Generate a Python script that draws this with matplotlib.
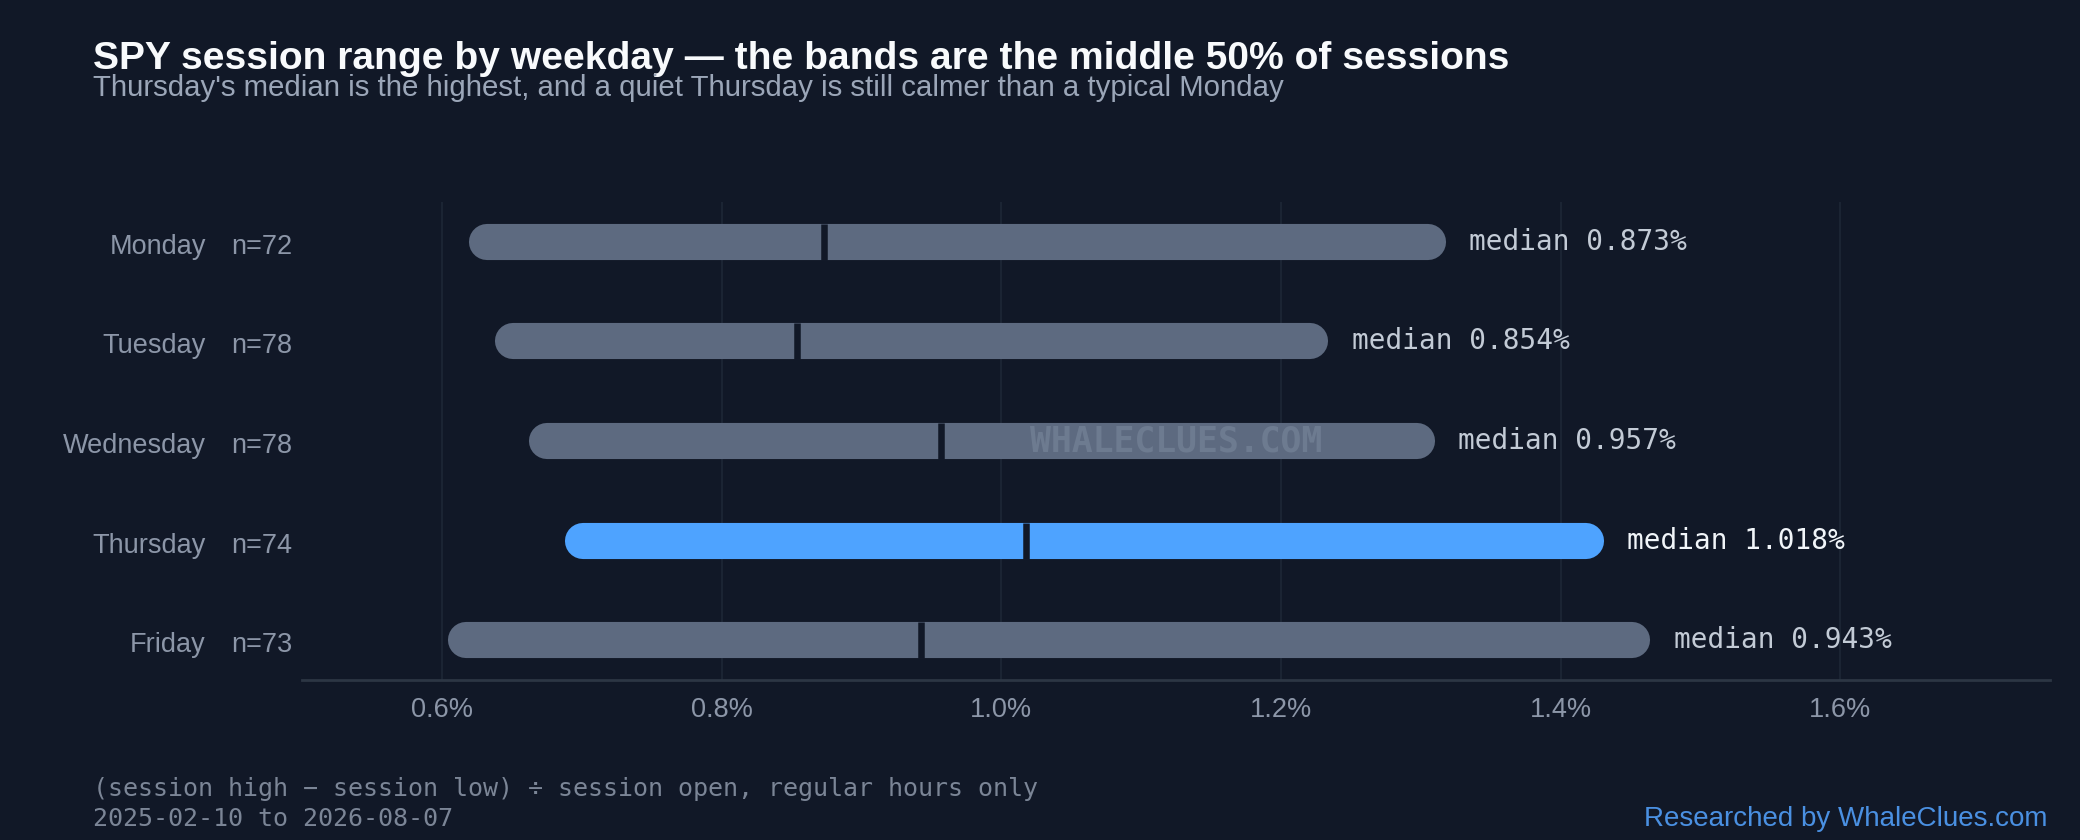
import matplotlib
matplotlib.use("Agg")
import matplotlib.pyplot as plt
from matplotlib.ticker import FuncFormatter

# session range (% of open), middle 50% of sessions per weekday
days = ["Monday", "Tuesday", "Wednesday", "Thursday", "Friday"]
counts = [72, 78, 78, 74, 73]
q25 = [0.632, 0.651, 0.675, 0.701, 0.617]
q75 = [1.305, 1.221, 1.297, 1.418, 1.451]
medians = [0.873, 0.854, 0.957, 1.018, 0.943]
highlight = "Thursday"
xticks = [0.6, 0.8, 1.0, 1.2, 1.4, 1.6]

BG = "#111827"
BAR = "#5d6a80"
HI = "#4ea3ff"
GRID = "#1e2736"
AXIS = "#2c3644"
LABEL = "#8c96a8"

plt.rcParams["font.family"] = ["Liberation Sans", "DejaVu Sans"]
mono = "DejaVu Sans Mono"

fig = plt.figure(figsize=(20.8, 8.4), dpi=100, facecolor=BG)
ax = fig.add_axes([302 / 2080, 160 / 840, 1748 / 2080, 478 / 840])
ax.set_facecolor(BG)

for i, day in enumerate(days):
    color = HI if day == highlight else BAR
    ax.plot([q25[i], q75[i]], [i, i], color=color, linewidth=26,
            solid_capstyle="round", zorder=3)
    ax.vlines(medians[i], i - 0.18, i + 0.18, color=BG, linewidth=4.7, zorder=4)
    ax.annotate(f"median {medians[i]:.3f}%", xy=(q75[i], i), xytext=(30, 0),
                textcoords="offset points", va="center", ha="left",
                fontsize=20, family=mono,
                color="#f1f5f9" if day == highlight else "#c3cbd6")
    # weekday name and sample size, left of the plot
    ax.text(-0.055, i + 0.05, day, transform=ax.get_yaxis_transform(), ha="right",
            va="center", fontsize=19.5, color=LABEL)
    ax.text(-0.0405, i + 0.05, f"n={counts[i]}", transform=ax.get_yaxis_transform(),
            ha="left", va="center", fontsize=19.5, color=LABEL)

ax.set_xlim(0.5, 1.75)
ax.set_ylim(len(days) - 0.6, -0.4)
ax.set_xticks(xticks)
ax.xaxis.set_major_formatter(FuncFormatter(lambda v, _: f"{v:.1f}%"))
ax.tick_params(axis="x", length=0, pad=12, labelsize=19.5, labelcolor=LABEL)
ax.set_yticks([])
ax.grid(axis="x", color=GRID, linewidth=1.2, zorder=0)
for side in ["top", "right", "left"]:
    ax.spines[side].set_visible(False)
ax.spines["bottom"].set_color(AXIS)
ax.spines["bottom"].set_linewidth(2)

ax.text(0.5, 0.5, "WHALECLUES.COM", transform=ax.transAxes, ha="center",
        va="center", fontsize=25, family=mono, fontweight="bold",
        color="#a0aec0", alpha=0.25, zorder=5)

fig.text(93 / 2080, 1 - 69 / 840,
         "SPY session range by weekday \u2014 the bands are the middle 50% of sessions",
         fontsize=28.1, fontweight="bold", color="#f8fafc", va="baseline")
fig.text(93 / 2080, 1 - 96 / 840,
         "Thursday's median is the highest, and a quiet Thursday is still calmer than a typical Monday",
         fontsize=21.2, color="#9ba6b8", va="baseline")

fig.text(93 / 2080, 1 - 796 / 840,
         "(session high \u2212 session low) \u00f7 session open, regular hours only",
         fontsize=18, family=mono, color="#7b8596", va="baseline")
fig.text(93 / 2080, 1 - 826 / 840, "2025-02-10 to 2026-08-07",
         fontsize=18, family=mono, color="#7b8596", va="baseline")
fig.text(2047 / 2080, 1 - 826 / 840, "Researched by WhaleClues.com",
         fontsize=20, color="#4a90e2", ha="right", va="baseline")

fig.savefig("out.png", dpi=100, facecolor=BG)
